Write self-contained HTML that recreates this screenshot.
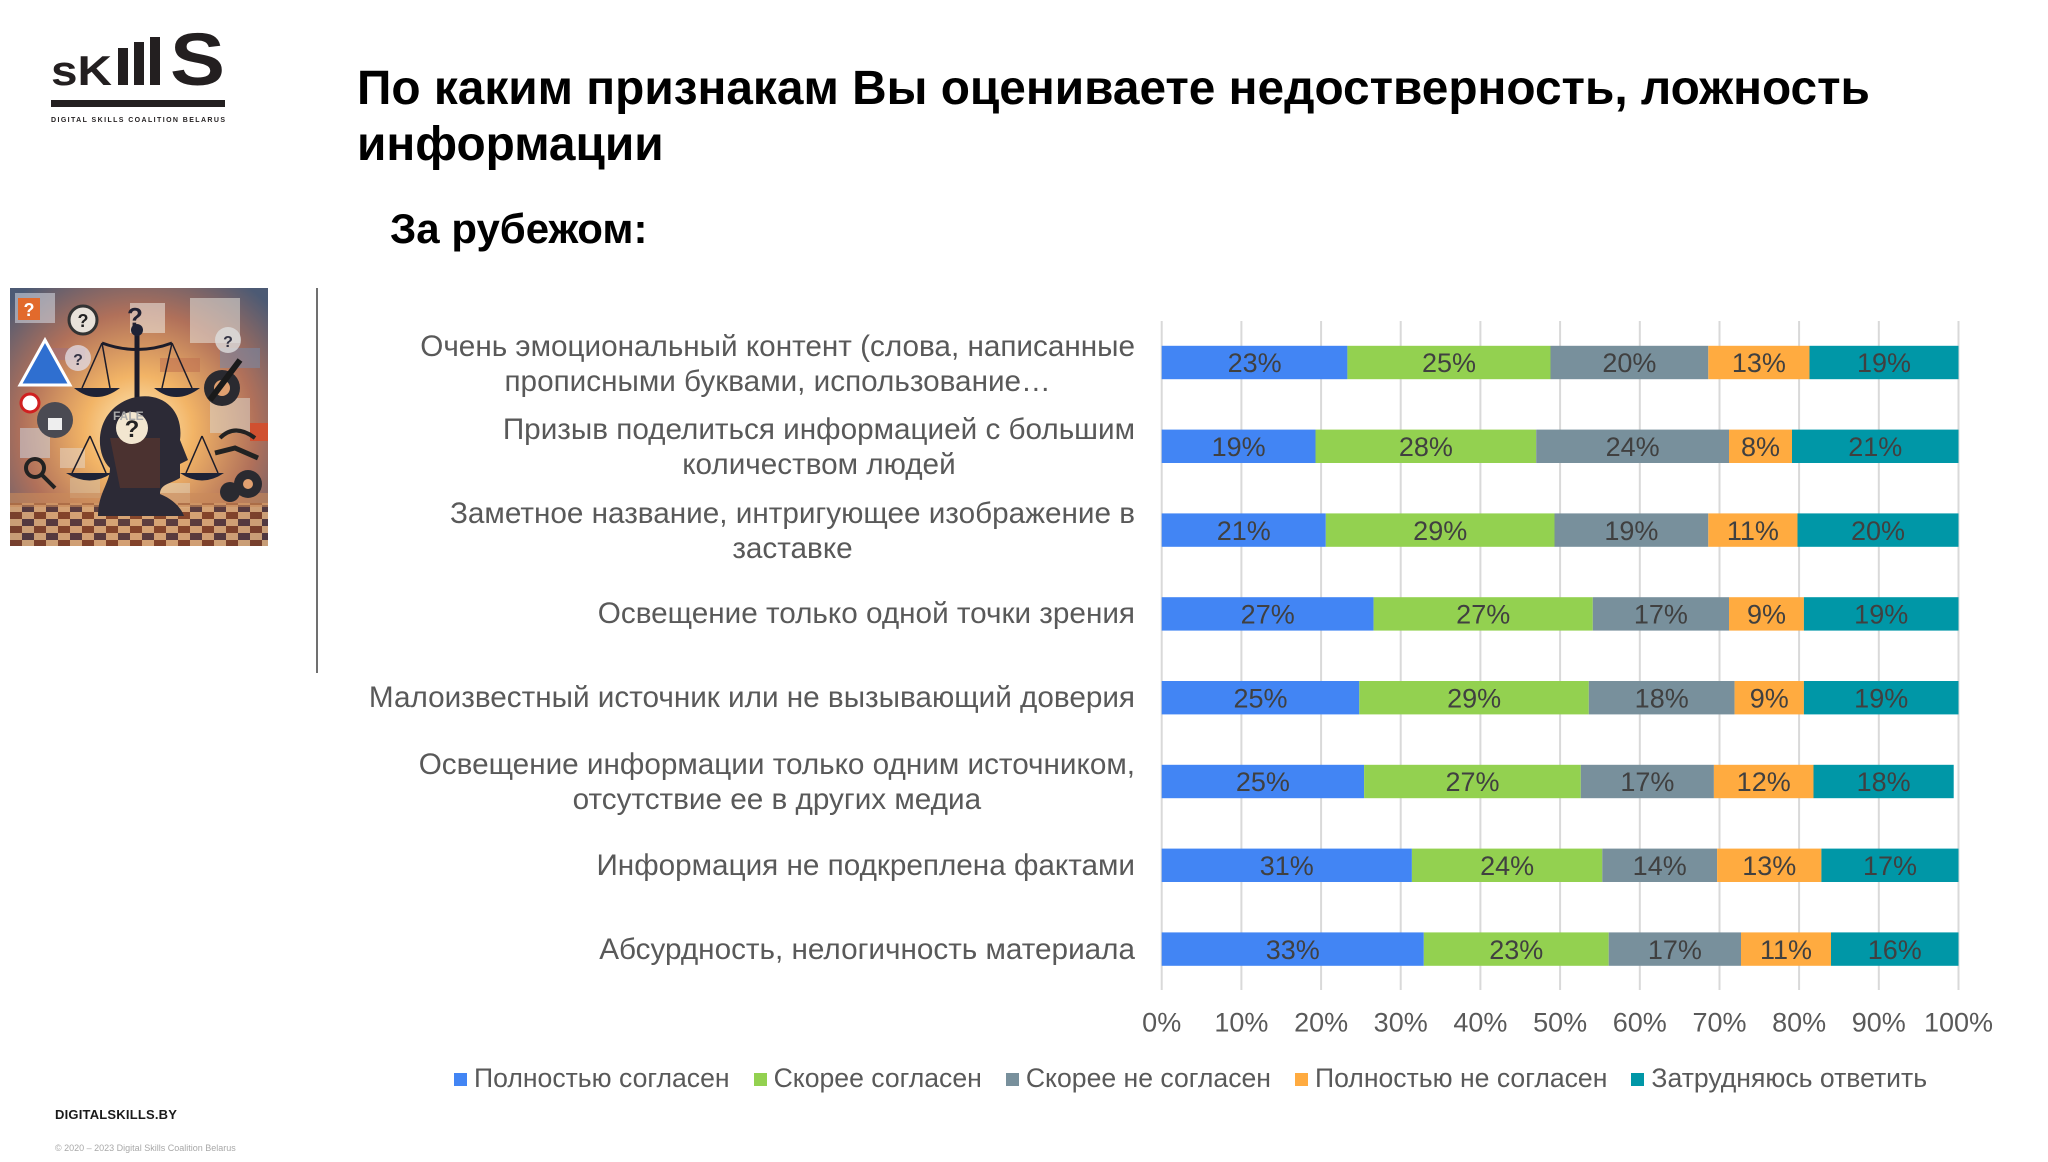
<!DOCTYPE html>
<html>
<head>
<meta charset="utf-8">
<style>
  html,body{margin:0;padding:0;background:#fff;}
  body{width:2048px;height:1162px;position:relative;overflow:hidden;font-family:"Liberation Sans","Noto Sans CJK SC",sans-serif;}
  .abs{position:absolute;white-space:nowrap;}
  .title{left:357px;top:61px;font-size:47.8px;line-height:56px;font-weight:bold;color:#000;}
  .sub{left:390px;top:208px;font-size:42px;line-height:42px;font-weight:bold;color:#000;}
  .cat{right:913px;text-align:center;font-size:29.7px;line-height:35px;color:#595959;}
  .legend{left:454px;top:1065px;display:flex;font-size:26.6px;line-height:27px;color:#595959;}
  .legend .it{display:flex;align-items:flex-start;margin-right:24px;}
  .legend .sq{width:13px;height:13px;margin-top:8px;margin-right:7px;}
  .foot1{left:55px;top:1108px;font-size:13px;line-height:14px;font-weight:bold;color:#1a1a1a;letter-spacing:0.2px;}
  .foot2{left:55px;top:1143px;font-size:9px;line-height:10px;color:#a8a8a8;}
</style>
</head>
<body>

<svg class="abs" style="left:0;top:0" width="2048" height="1162" xmlns="http://www.w3.org/2000/svg">
  <!-- Logo -->
  <g fill="#231f20" font-family="Liberation Sans, sans-serif" font-weight="bold">
    <text x="51" y="85" font-size="42" textLength="61" lengthAdjust="spacingAndGlyphs">sK</text>
    <rect x="118" y="48" width="10" height="37"/>
    <rect x="134" y="42" width="10" height="43"/>
    <rect x="150" y="37" width="10" height="48"/>
    <text x="170" y="85" font-size="74" textLength="55" lengthAdjust="spacingAndGlyphs">S</text>
    <rect x="51" y="100" width="174" height="7"/>
    <text x="51" y="122" font-size="7" textLength="174" lengthAdjust="spacing">DIGITAL SKILLS COALITION BELARUS</text>
  </g>

  <!-- Picture -->
  <svg x="10" y="288" width="258" height="258" viewBox="0 0 258 258">
    <defs>
      <radialGradient id="glow" cx="0.5" cy="0.55" r="0.7">
        <stop offset="0" stop-color="#fff0c8"/>
        <stop offset="0.3" stop-color="#f2b466"/>
        <stop offset="0.65" stop-color="#b0705a"/>
        <stop offset="1" stop-color="#4c5a74"/>
      </radialGradient>
      <pattern id="chk" x="0" y="0" width="24" height="14" patternUnits="userSpaceOnUse">
        <rect width="24" height="14" fill="#d9a878"/>
        <rect width="12" height="7" fill="#7a3a22"/>
        <rect x="12" y="7" width="12" height="7" fill="#4a3038"/>
      </pattern>
    </defs>
    <rect width="258" height="258" fill="url(#glow)"/>
    <g opacity="0.55">
      <rect x="5" y="5" width="40" height="30" fill="#d9dde6"/>
      <rect x="180" y="10" width="50" height="45" fill="#e8e4dc"/>
      <rect x="120" y="15" width="35" height="30" fill="#f0ece4"/>
      <rect x="200" y="110" width="40" height="35" fill="#ddd6cc"/>
      <rect x="10" y="140" width="30" height="30" fill="#cfd4de"/>
      <rect x="50" y="160" width="25" height="20" fill="#e6d6c6"/>
      <rect x="210" y="60" width="40" height="20" fill="#7a8aa8"/>
      <rect x="150" y="70" width="40" height="14" fill="#c07050"/>
      <rect x="40" y="60" width="35" height="12" fill="#a07080"/>
      <rect x="60" y="190" width="30" height="20" fill="#d8c0a0"/>
      <rect x="150" y="195" width="30" height="25" fill="#e0d0b8"/>
    </g>
    <rect x="8" y="10" width="22" height="22" fill="#e26a2c"/>
    <text x="19" y="28" font-size="18" font-weight="bold" fill="#fff" text-anchor="middle" font-family="Liberation Sans, sans-serif">?</text>
    <rect x="240" y="135" width="18" height="18" fill="#d05030"/>
    <!-- floor -->
    <rect x="0" y="215" width="258" height="43" fill="url(#chk)" opacity="0.85"/>
    <rect x="0" y="205" width="258" height="14" fill="#c98a5a" opacity="0.6"/>
    <!-- blue triangle sign -->
    <polygon points="10,97 35,52 60,97" fill="#2f6fd0" stroke="#fff" stroke-width="3"/>
    <!-- lock -->
    <circle cx="45" cy="132" r="18" fill="#4a4a52"/>
    <rect x="38" y="130" width="14" height="12" fill="#eee"/>
    <!-- question bubbles -->
    <circle cx="73" cy="32" r="14" fill="#e8e2da" stroke="#333" stroke-width="3"/>
    <text x="73" y="39" font-size="18" font-weight="bold" fill="#222" text-anchor="middle" font-family="Liberation Sans, sans-serif">?</text>
    <circle cx="68" cy="70" r="13" fill="#e0d8e0" opacity="0.8"/>
    <text x="68" y="77" font-size="16" font-weight="bold" fill="#334" text-anchor="middle" font-family="Liberation Sans, sans-serif">?</text>
    <circle cx="218" cy="52" r="13" fill="#ddd" opacity="0.8"/>
    <text x="218" y="59" font-size="16" font-weight="bold" fill="#334" text-anchor="middle" font-family="Liberation Sans, sans-serif">?</text>
    <text x="125" y="38" font-size="26" font-weight="bold" fill="#223" text-anchor="middle" font-family="Liberation Sans, sans-serif">?</text>
    <!-- scales -->
    <g stroke="#1c1c2a" fill="none" stroke-width="3">
      <line x1="127" y1="40" x2="127" y2="112" stroke-width="5"/>
      <path d="M92 55 Q127 68 162 55"/>
      <line x1="92" y1="55" x2="72" y2="100" stroke-width="1.5"/>
      <line x1="92" y1="55" x2="100" y2="100" stroke-width="1.5"/>
      <line x1="162" y1="55" x2="152" y2="100" stroke-width="1.5"/>
      <line x1="162" y1="55" x2="182" y2="100" stroke-width="1.5"/>
      <line x1="80" y1="148" x2="62" y2="185" stroke-width="1.5"/>
      <line x1="80" y1="148" x2="96" y2="185" stroke-width="1.5"/>
      <line x1="192" y1="148" x2="176" y2="185" stroke-width="1.5"/>
      <line x1="192" y1="148" x2="208" y2="185" stroke-width="1.5"/>
    </g>
    <g fill="#1e2236">
      <path d="M64 100 Q86 118 110 100 Z"/>
      <path d="M144 100 Q166 118 190 100 Z"/>
      <path d="M56 185 Q80 200 102 185 Z"/>
      <path d="M170 185 Q192 200 214 185 Z"/>
      <circle cx="127" cy="42" r="6"/>
    </g>
    <!-- head -->
    <path d="M88 228 C88 205 100 195 100 180 C84 165 84 122 122 110 C152 102 174 122 170 152 L178 172 L170 176 L170 190 C160 196 150 196 150 206 C165 212 172 222 174 228 Z" fill="#2c2a36"/>
    <path d="M100 150 L150 150 L150 200 L110 200 Z" fill="#6a3a2a" opacity="0.5"/>
    <circle cx="122" cy="140" r="16" fill="#f2e6d0"/>
    <text x="122" y="149" font-size="24" font-weight="bold" fill="#222" text-anchor="middle" font-family="Liberation Sans, sans-serif">?</text>
    <text x="103" y="132" font-size="12" font-weight="bold" fill="#aaa" font-family="Liberation Sans, sans-serif">FALE</text>
    <!-- right icons -->
    <circle cx="212" cy="100" r="18" fill="#2a2a30"/>
    <circle cx="212" cy="100" r="8" fill="#e0a070"/>
    <line x1="200" y1="112" x2="230" y2="72" stroke="#1a1a1a" stroke-width="6"/>
    <path d="M210 150 Q225 135 245 150" stroke="#222" stroke-width="4" fill="none"/>
    <path d="M205 165 L225 160 L248 170" stroke="#222" stroke-width="5" fill="none"/>
    <circle cx="238" cy="196" r="14" fill="#2a2a30"/>
    <circle cx="238" cy="196" r="5" fill="#e0a070"/>
    <circle cx="220" cy="204" r="10" fill="#2a2a30"/>
    <circle cx="25" cy="180" r="9" fill="none" stroke="#222" stroke-width="4"/>
    <line x1="32" y1="187" x2="45" y2="200" stroke="#222" stroke-width="4"/>
    <circle cx="20" cy="115" r="9" fill="#fff" stroke="#d02020" stroke-width="3"/>
  </svg>

  <!-- divider -->
  <line x1="317" y1="288" x2="317" y2="673" stroke="#404040" stroke-width="1.5"/>

  <!-- gridlines -->
  <g stroke="#d9d9d9" stroke-width="2">
    <line x1="1161.7" y1="321" x2="1161.7" y2="990"/>
    <line x1="1241.4" y1="321" x2="1241.4" y2="990"/>
    <line x1="1321.1" y1="321" x2="1321.1" y2="990"/>
    <line x1="1400.7" y1="321" x2="1400.7" y2="990"/>
    <line x1="1480.4" y1="321" x2="1480.4" y2="990"/>
    <line x1="1560.1" y1="321" x2="1560.1" y2="990"/>
    <line x1="1639.8" y1="321" x2="1639.8" y2="990"/>
    <line x1="1719.5" y1="321" x2="1719.5" y2="990"/>
    <line x1="1799.1" y1="321" x2="1799.1" y2="990"/>
    <line x1="1878.8" y1="321" x2="1878.8" y2="990"/>
    <line x1="1958.5" y1="321" x2="1958.5" y2="990"/>
  </g>

  <!-- bars -->
  <g>
    <rect x="1161.7" y="345.8" width="185.7" height="33.4" fill="#4285F4"/>
    <rect x="1347.4" y="345.8" width="203.1" height="33.4" fill="#93D150"/>
    <rect x="1550.5" y="345.8" width="157.8" height="33.4" fill="#78909C"/>
    <rect x="1708.3" y="345.8" width="101.2" height="33.4" fill="#FFAB40"/>
    <rect x="1809.5" y="345.8" width="149.0" height="33.4" fill="#0097A7"/>

    <rect x="1161.7" y="429.6" width="153.8" height="33.4" fill="#4285F4"/>
    <rect x="1315.5" y="429.6" width="220.7" height="33.4" fill="#93D150"/>
    <rect x="1536.2" y="429.6" width="192.8" height="33.4" fill="#78909C"/>
    <rect x="1729.0" y="429.6" width="63.0" height="33.4" fill="#FFAB40"/>
    <rect x="1792.0" y="429.6" width="166.5" height="33.4" fill="#0097A7"/>

    <rect x="1161.7" y="513.4" width="164.1" height="33.4" fill="#4285F4"/>
    <rect x="1325.8" y="513.4" width="228.7" height="33.4" fill="#93D150"/>
    <rect x="1554.5" y="513.4" width="153.8" height="33.4" fill="#78909C"/>
    <rect x="1708.3" y="513.4" width="89.2" height="33.4" fill="#FFAB40"/>
    <rect x="1797.5" y="513.4" width="161.0" height="33.4" fill="#0097A7"/>

    <rect x="1161.7" y="597.2" width="211.9" height="33.4" fill="#4285F4"/>
    <rect x="1373.6" y="597.2" width="219.2" height="33.4" fill="#93D150"/>
    <rect x="1592.8" y="597.2" width="136.2" height="33.4" fill="#78909C"/>
    <rect x="1729.0" y="597.2" width="74.9" height="33.4" fill="#FFAB40"/>
    <rect x="1803.9" y="597.2" width="154.6" height="33.4" fill="#0097A7"/>

    <rect x="1161.7" y="681.0" width="197.6" height="33.4" fill="#4285F4"/>
    <rect x="1359.3" y="681.0" width="229.5" height="33.4" fill="#93D150"/>
    <rect x="1588.8" y="681.0" width="145.8" height="33.4" fill="#78909C"/>
    <rect x="1734.6" y="681.0" width="69.3" height="33.4" fill="#FFAB40"/>
    <rect x="1803.9" y="681.0" width="154.6" height="33.4" fill="#0097A7"/>

    <rect x="1161.7" y="764.8" width="202.4" height="33.4" fill="#4285F4"/>
    <rect x="1364.1" y="764.8" width="216.7" height="33.4" fill="#93D150"/>
    <rect x="1580.8" y="764.8" width="133.1" height="33.4" fill="#78909C"/>
    <rect x="1713.9" y="764.8" width="99.6" height="33.4" fill="#FFAB40"/>
    <rect x="1813.5" y="764.8" width="140.2" height="33.4" fill="#0097A7"/>

    <rect x="1161.7" y="848.6" width="250.2" height="33.4" fill="#4285F4"/>
    <rect x="1411.9" y="848.6" width="190.4" height="33.4" fill="#93D150"/>
    <rect x="1602.3" y="848.6" width="114.8" height="33.4" fill="#78909C"/>
    <rect x="1717.1" y="848.6" width="104.3" height="33.4" fill="#FFAB40"/>
    <rect x="1821.4" y="848.6" width="137.1" height="33.4" fill="#0097A7"/>

    <rect x="1161.7" y="932.4" width="262.1" height="33.4" fill="#4285F4"/>
    <rect x="1423.8" y="932.4" width="184.9" height="33.4" fill="#93D150"/>
    <rect x="1608.7" y="932.4" width="132.3" height="33.4" fill="#78909C"/>
    <rect x="1741.0" y="932.4" width="90.0" height="33.4" fill="#FFAB40"/>
    <rect x="1831.0" y="932.4" width="127.5" height="33.4" fill="#0097A7"/>
  </g>

  <!-- bar labels -->
  <g font-family="Liberation Sans, sans-serif" font-size="27" fill="#404040" text-anchor="middle">
    <text x="1254.6" y="372.2">23%</text><text x="1449.0" y="372.2">25%</text><text x="1629.4" y="372.2">20%</text><text x="1758.9" y="372.2">13%</text><text x="1884.0" y="372.2">19%</text>
    <text x="1238.6" y="456.0">19%</text><text x="1425.9" y="456.0">28%</text><text x="1632.6" y="456.0">24%</text><text x="1760.5" y="456.0">8%</text><text x="1875.3" y="456.0">21%</text>
    <text x="1243.8" y="539.8">21%</text><text x="1440.2" y="539.8">29%</text><text x="1631.4" y="539.8">19%</text><text x="1752.9" y="539.8">11%</text><text x="1878.0" y="539.8">20%</text>
    <text x="1267.7" y="623.6">27%</text><text x="1483.2" y="623.6">27%</text><text x="1660.9" y="623.6">17%</text><text x="1766.5" y="623.6">9%</text><text x="1881.2" y="623.6">19%</text>
    <text x="1260.5" y="707.4">25%</text><text x="1474.1" y="707.4">29%</text><text x="1661.7" y="707.4">18%</text><text x="1769.3" y="707.4">9%</text><text x="1881.2" y="707.4">19%</text>
    <text x="1262.9" y="791.2">25%</text><text x="1472.5" y="791.2">27%</text><text x="1647.4" y="791.2">17%</text><text x="1763.7" y="791.2">12%</text><text x="1883.6" y="791.2">18%</text>
    <text x="1286.8" y="875.0">31%</text><text x="1507.1" y="875.0">24%</text><text x="1659.7" y="875.0">14%</text><text x="1769.3" y="875.0">13%</text><text x="1890.0" y="875.0">17%</text>
    <text x="1292.8" y="958.8">33%</text><text x="1516.3" y="958.8">23%</text><text x="1674.9" y="958.8">17%</text><text x="1786.0" y="958.8">11%</text><text x="1894.8" y="958.8">16%</text>
  </g>

  <!-- axis labels -->
  <g font-family="Liberation Sans, sans-serif" font-size="27" fill="#595959" text-anchor="middle">
    <text x="1161.7" y="1031.4">0%</text>
    <text x="1241.4" y="1031.4">10%</text>
    <text x="1321.1" y="1031.4">20%</text>
    <text x="1400.7" y="1031.4">30%</text>
    <text x="1480.4" y="1031.4">40%</text>
    <text x="1560.1" y="1031.4">50%</text>
    <text x="1639.8" y="1031.4">60%</text>
    <text x="1719.5" y="1031.4">70%</text>
    <text x="1799.1" y="1031.4">80%</text>
    <text x="1878.8" y="1031.4">90%</text>
    <text x="1958.5" y="1031.4">100%</text>
  </g>
</svg>

<div class="abs title">По каким признакам Вы оцениваете недостверность, ложность<br>информации</div>
<div class="abs sub">За рубежом:</div>

<div class="abs cat" style="top:328.5px">Очень эмоциональный контент (слова, написанные<br>прописными буквами, использование…</div>
<div class="abs cat" style="top:412.3px">Призыв поделиться информацией с большим<br>количеством людей</div>
<div class="abs cat" style="top:496.1px">Заметное название, интригующее изображение в<br>заставке</div>
<div class="abs cat" style="top:596.4px">Освещение только одной точки зрения</div>
<div class="abs cat" style="top:680.2px">Малоизвестный источник или не вызывающий доверия</div>
<div class="abs cat" style="top:746.5px">Освещение информации только одним источником,<br>отсутствие ее в других медиа</div>
<div class="abs cat" style="top:847.8px">Информация не подкреплена фактами</div>
<div class="abs cat" style="top:931.6px">Абсурдность, нелогичность материала</div>

<div class="abs legend">
  <div class="it"><div class="sq" style="background:#4285F4"></div>Полностью согласен</div>
  <div class="it"><div class="sq" style="background:#93D150"></div>Скорее согласен</div>
  <div class="it"><div class="sq" style="background:#78909C"></div>Скорее не согласен</div>
  <div class="it"><div class="sq" style="background:#FFAB40"></div>Полностью не согласен</div>
  <div class="it"><div class="sq" style="background:#0097A7"></div>Затрудняюсь ответить</div>
</div>

<div class="abs foot1">DIGITALSKILLS.BY</div>
<div class="abs foot2">© 2020 – 2023 Digital Skills Coalition Belarus</div>

</body>
</html>
